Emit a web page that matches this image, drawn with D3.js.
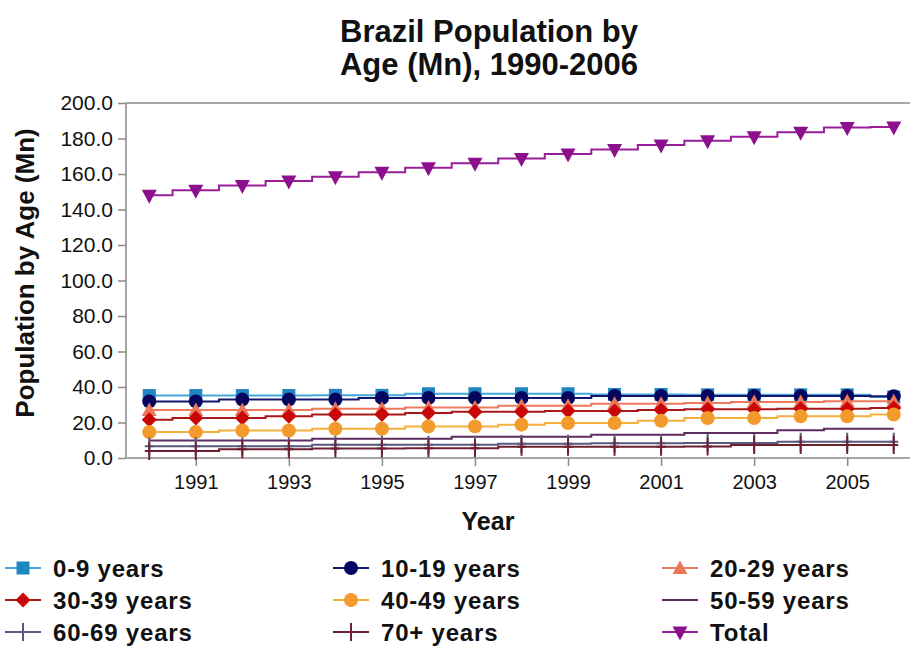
<!DOCTYPE html>
<html>
<head>
<meta charset="utf-8">
<script src="https://cdn.jsdelivr.net/npm/d3@7"></script>
<style>
  html, body { margin: 0; padding: 0; background: #fff; }
  svg { display: block; }
  text { font-family: "Liberation Sans", Arial, sans-serif; fill: #111; }
</style>
</head>
<body>
<svg id="chart" width="910" height="646"></svg>
<script>
// Brazil population by age group, millions
const years   = [1990,1991,1992,1993,1994,1995,1996,1997,1998,1999,2000,2001,2002,2003,2004,2005,2006];
const age0_9   = [35.2,35.2,35.2,35.2,35.3,35.3,36.2,36.2,36.2,36.2,35.8,35.8,35.6,35.6,35.6,35.6,34.4];
const age10_19 = [31.9,31.9,32.9,32.9,32.9,33.8,33.8,33.8,33.8,33.8,35.0,35.0,35.0,35.0,35.0,35.0,34.8];
const age20_29 = [27.0,27.0,27.0,27.0,27.8,27.8,28.5,28.5,29.5,29.5,30.5,30.5,31.0,31.5,31.5,32.0,32.0];
const age30_39 = [21.6,22.5,22.5,23.5,24.5,24.5,25.4,26.0,26.0,26.5,26.5,27.0,27.4,27.4,27.8,27.8,28.2];
const age40_49 = [14.6,14.6,15.5,15.5,16.5,16.5,17.8,17.8,18.8,19.7,19.7,21.0,22.5,22.5,23.5,23.5,24.5];
const age50_59 = [9.8,9.8,9.8,9.8,10.9,10.9,10.9,12.0,12.0,12.0,13.1,13.1,14.1,14.1,15.6,16.5,16.5];
const age60_69 = [6.6,6.6,6.6,6.6,7.5,7.5,7.5,7.5,8.0,8.0,8.3,8.3,8.5,8.5,9.2,9.2,9.2];
const age70p   = [4.0,4.0,5.0,5.0,5.3,5.3,5.5,5.5,6.3,6.3,6.3,6.3,6.5,7.3,7.3,7.3,7.3];
const total    = [148.0,150.8,153.5,156.0,158.5,161.0,163.5,166.0,168.8,171.3,173.8,176.3,178.8,181.0,183.5,186.2,186.5];

const seriesNames = ["0-9 years","10-19 years","20-29 years","30-39 years","40-49 years","50-59 years","60-69 years","70+ years","Total"];
const yTicks = [0,20,40,60,80,100,120,140,160,180,200];
const xTickYears = [1991,1993,1995,1997,1999,2001,2003,2005];

// style per series: marker shape, marker colour, line colour
const styles = [
  { shape: "square",   fill: "#1f86c2", line: "#45a6d9" },
  { shape: "circle",   fill: "#06065e", line: "#16166e" },
  { shape: "triangle", fill: "#ec7658", line: "#ee7a5e" },
  { shape: "diamond",  fill: "#c80808", line: "#a81818" },
  { shape: "circle",   fill: "#f39a2c", line: "#f4b03c" },
  { shape: "none",     fill: "#5e2c5e", line: "#5e2c5e" },
  { shape: "plus",     fill: "#5a5a80", line: "#5a5a80" },
  { shape: "plus",     fill: "#6e1f30", line: "#6e1f30" },
  { shape: "tridown",  fill: "#8c0f8c", line: "#9a1e9a" }
];

const seriesValues = [age0_9, age10_19, age20_29, age30_39, age40_49, age50_59, age60_69, age70p, total];
const series = seriesNames.map((name, i) => ({
  name, style: styles[i],
  points: years.map((yr, j) => ({ year: yr, value: seriesValues[i][j] }))
}));

const svg = d3.select("#chart");
const plot = { left: 126, top: 103, right: 917, bottom: 458 };

const x = d3.scaleLinear().domain([1989.5, 2006.5]).range([plot.left, plot.right]);
const y = d3.scaleLinear().domain([0, 200]).range([plot.bottom, plot.top]);

// Title
svg.append("text").attr("x", 489).attr("y", 42).attr("text-anchor", "middle")
  .style("font-size", "31px").style("font-weight", "bold").text("Brazil Population by");
svg.append("text").attr("x", 489).attr("y", 75).attr("text-anchor", "middle")
  .style("font-size", "31px").style("font-weight", "bold").text("Age (Mn), 1990-2006");

// Frame
svg.append("path")
  .attr("d", `M${plot.right},${plot.top}H${plot.left}V${plot.bottom}H${plot.right}`)
  .attr("fill", "none").attr("stroke", "#8a8a8a").attr("stroke-width", 1.5);

// Y axis
const yAxis = d3.axisLeft(y).tickValues(yTicks).tickFormat(d3.format(".1f")).tickSize(8).tickPadding(5);
const gy = svg.append("g").attr("transform", `translate(${plot.left},0)`).call(yAxis);
gy.select(".domain").remove();
gy.selectAll(".tick line").attr("stroke", "#8a8a8a").attr("stroke-width", 1.5);
gy.selectAll(".tick text").style("font-size", "21px").style("font-family", "'Liberation Sans', Arial, sans-serif").attr("fill", "#111");

// X axis
const xAxis = d3.axisBottom(x).tickValues(xTickYears).tickFormat(d3.format("d")).tickSize(8).tickPadding(9);
const gx = svg.append("g").attr("transform", `translate(0,${plot.bottom})`).call(xAxis);
gx.select(".domain").remove();
gx.selectAll(".tick line").attr("stroke", "#8a8a8a").attr("stroke-width", 1.5);
gx.selectAll(".tick text").style("font-size", "20px").style("font-family", "'Liberation Sans', Arial, sans-serif").attr("fill", "#111");

// Axis titles
svg.append("text").attr("x", 488).attr("y", 530).attr("text-anchor", "middle")
  .style("font-size", "25px").style("font-weight", "bold").text("Year");
svg.append("text").attr("transform", "translate(34,273) rotate(-90)").attr("text-anchor", "middle")
  .style("font-size", "26px").style("font-weight", "bold").text("Population by Age (Mn)");

// Marker drawing
function drawMarker(g, shape, color) {
  switch (shape) {
    case "square":
      g.append("rect").attr("x", -6.5).attr("y", -6.5).attr("width", 13).attr("height", 13).attr("fill", color); break;
    case "circle":
      g.append("circle").attr("r", 7).attr("fill", color); break;
    case "triangle":
      g.append("path").attr("d", "M0,-7.5L7.5,6L-7.5,6Z").attr("fill", color); break;
    case "diamond":
      g.append("path").attr("d", "M0,-7.5L7.5,0L0,7.5L-7.5,0Z").attr("fill", color); break;
    case "tridown":
      g.append("path").attr("d", "M-7.5,-5.5L7.5,-5.5L0,8.5Z").attr("fill", color); break;
    case "plus":
      g.append("path").attr("d", "M0,-9V9M-4.5,0H4.5").attr("stroke", color).attr("stroke-width", 2).attr("fill", "none"); break;
  }
}

const line = d3.line().curve(d3.curveStep).x(d => x(d.year)).y(d => y(d.value));

const gSeries = svg.append("g");
series.forEach(s => {
  const g = gSeries.append("g");
  g.append("path").datum(s.points).attr("d", line)
    .attr("fill", "none").attr("stroke", s.style.line).attr("stroke-width", 2);
  g.selectAll("g.pt").data(s.points).join("g").attr("class", "pt")
    .attr("transform", d => `translate(${x(d.year)},${y(d.value)})`)
    .each(function () { drawMarker(d3.select(this), s.style.shape, s.style.fill); });
});

// Legend, three columns
const legCols = [5, 333, 662];
const legRows = [568, 600, 632];
series.forEach((s, i) => {
  const cx = legCols[i % 3], cy = legRows[Math.floor(i / 3)];
  const g = svg.append("g").attr("transform", `translate(${cx},${cy})`);
  g.append("line").attr("x1", 0).attr("x2", 36).attr("y1", 0).attr("y2", 0)
    .attr("stroke", s.style.line).attr("stroke-width", 2);
  drawMarker(g.append("g").attr("transform", "translate(18,0)"), s.style.shape, s.style.fill);
  g.append("text").attr("x", 48).attr("y", 8.5)
    .style("font-size", "24px").style("font-weight", "bold").style("letter-spacing", "0.8px")
    .text(s.name);
});
</script>
</body>
</html>
